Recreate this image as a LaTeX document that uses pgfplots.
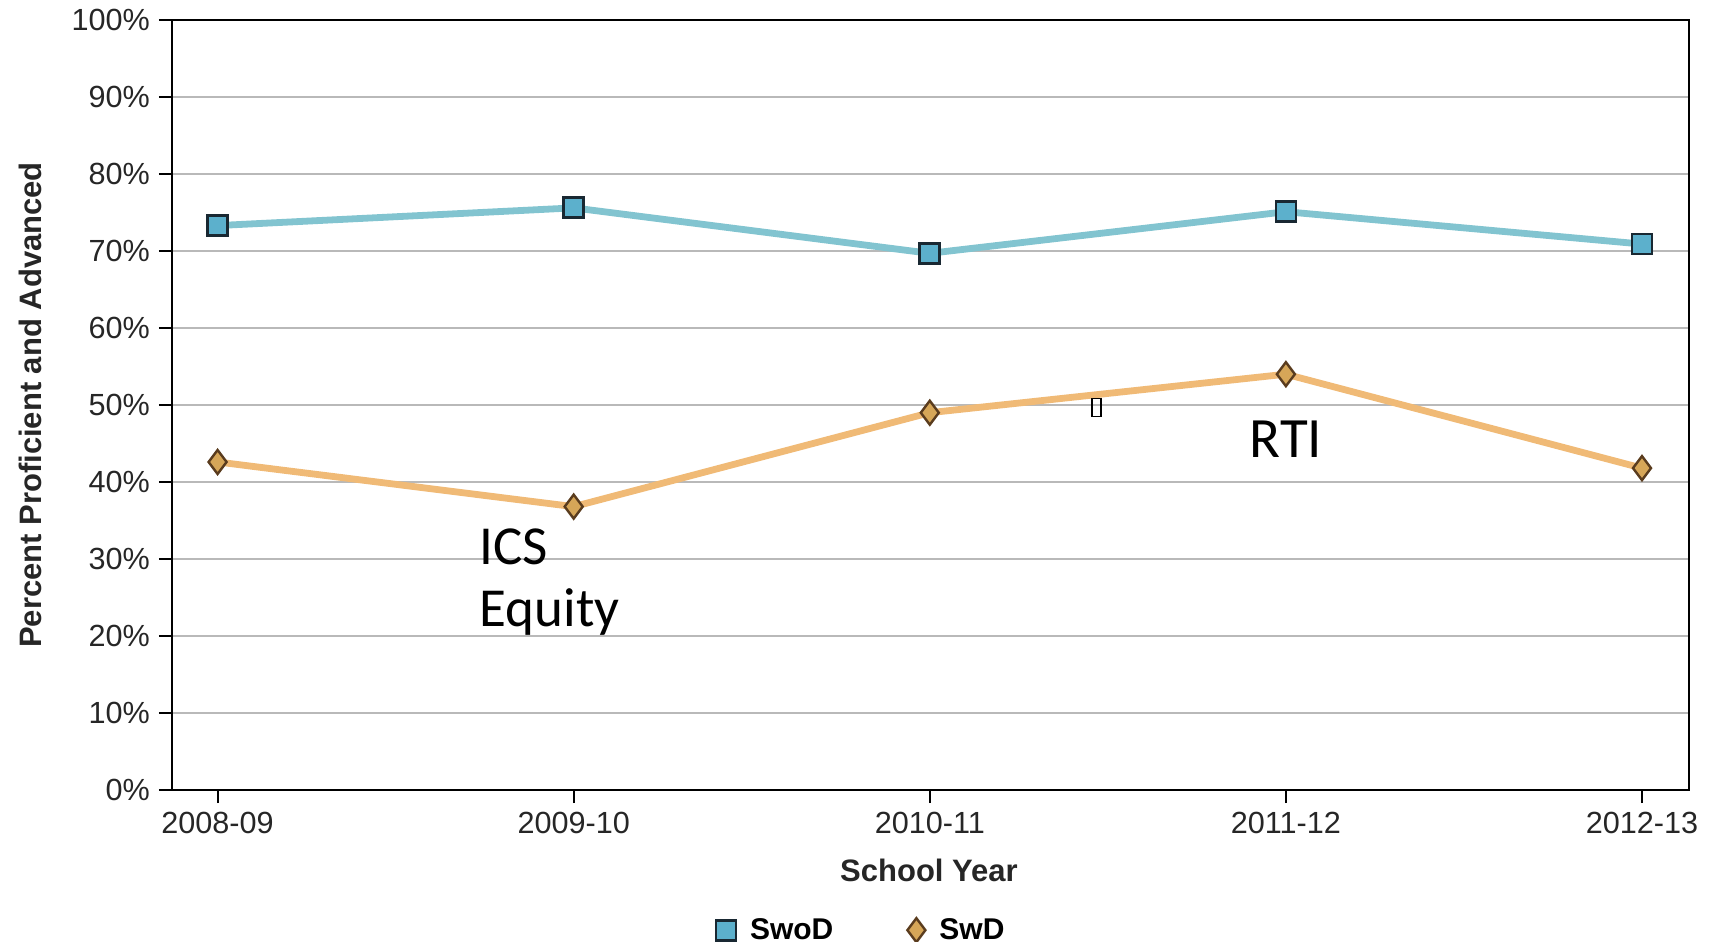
\documentclass[border=0pt]{standalone}
\usepackage{fontspec}
\setmainfont{Liberation Sans}
\newfontfamily\calfont{Carlito}
\usepackage{pgfplots}
\pgfplotsset{compat=1.18}

\definecolor{swodline}{RGB}{130,196,208}
\definecolor{swodfill}{RGB}{92,176,204}
\definecolor{swodedge}{RGB}{25,40,50}
\definecolor{swdline}{RGB}{240,186,118}
\definecolor{swdfill}{RGB}{214,166,88}
\definecolor{swdedge}{RGB}{90,60,30}
\definecolor{gridgray}{RGB}{185,185,185}

\begin{document}
\begin{tikzpicture}
\useasboundingbox (-86pt,-76pt) rectangle (771pt,395pt);
\begin{axis}[
  scale only axis,
  width=758.5pt, height=385pt,
  xmin=-0.128, xmax=4.132,
  ymin=0, ymax=100,
  xtick={0,1,2,3,4},
  xticklabels={2008-09,2009-10,2010-11,2011-12,2012-13},
  ytick={0,10,...,100},
  yticklabel={\pgfmathprintnumber{\tick}\%},
  /pgf/number format/assume math mode=true,
  tick label style={font=\fontsize{15.3}{18}\selectfont, color=black!85},
  yticklabel style={xshift=-1pt},
  xticklabel style={yshift=-1pt},
  tick align=outside,
  major tick length=6.5pt,
  xtick pos=bottom, ytick pos=left,
  tick style={black, line width=1pt},
  axis line style={black, line width=1pt},
  ymajorgrids,
  grid style={gridgray, line width=0.8pt},
  xlabel={School Year},
  ylabel={Percent Proficient and Advanced},
  label style={font=\bfseries\fontsize{15.5}{18}\selectfont, color=black!85},
  xlabel style={at={(axis description cs:0.499,-0.104)}, anchor=center},
  ylabel style={at={(axis description cs:-0.0936,0.5)}, anchor=center},
  legend style={at={(axis description cs:0.455,-0.182)}, anchor=center,
    draw=none, fill=none, legend columns=2,
    font=\bfseries\fontsize{15}{18}\selectfont,
    /tikz/every even column/.append style={column sep=35pt}},
  clip=false,
]
% legend entries show the markers only
\addlegendimage{only marks, mark=square*, mark size=5pt,
  mark options={fill=swodfill, draw=swodedge, line width=1.4pt}}
\addlegendentry{\hspace*{5pt}SwoD}
\addlegendimage{only marks, mark=diamond*, mark size=6pt,
  mark options={fill=swdfill, draw=swdedge, line width=1.2pt}}
\addlegendentry{\hspace*{5pt}SwD}

% students without disabilities
\addplot[forget plot, swodline, line width=3.4pt, mark=square*, mark size=5pt,
  mark options={fill=swodfill, draw=swodedge, line width=1.4pt}]
  coordinates {(0,73.3) (1,75.6) (2,69.7) (3,75.1) (4,70.9)};

% students with disabilities
\addplot[forget plot, swdline, line width=3.4pt, mark=diamond*, mark size=6pt,
  mark options={fill=swdfill, draw=swdedge, line width=1.2pt}]
  coordinates {(0,42.6) (1,36.8) (2,49.0) (3,54.0) (4,41.8)};

% initiative notes
\node[anchor=base west, font=\calfont\fontsize{27.5}{32}\selectfont, inner sep=0]
  at (axis cs:0.735,29.3) {ICS};
\node[anchor=base west, font=\calfont\fontsize{27.5}{32}\selectfont, inner sep=0]
  at (axis cs:0.735,21.2) {Equity};
\node[anchor=base, font=\calfont\fontsize{28.5}{34}\selectfont, inner sep=0]
  at (axis cs:3,43.2) {RTI};
\node[draw=black, line width=0.6pt, minimum width=4.5pt, minimum height=9pt,
  inner sep=0pt] at (axis cs:2.468,49.7) {};
\end{axis}
\end{tikzpicture}
\end{document}
